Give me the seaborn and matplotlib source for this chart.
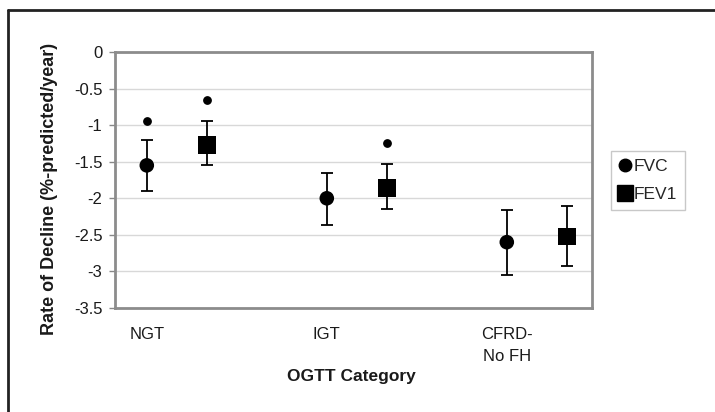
import matplotlib
matplotlib.use("Agg")
import matplotlib.pyplot as plt
from matplotlib.lines import Line2D
import seaborn as sns
import pandas as pd

# Rate of decline by OGTT category (mean with error range)
categories = ["NGT", "IGT", "CFRD-\nNo FH"]
measures = ["FVC", "FEV1"]
fvc_mean = [-1.55, -2.00, -2.60]
fvc_upper = [-1.20, -1.65, -2.16]
fvc_lower = [-1.90, -2.36, -3.05]
fev1_mean = [-1.27, -1.86, -2.52]
fev1_upper = [-0.95, -1.53, -2.11]
fev1_lower = [-1.55, -2.14, -2.92]
# significance markers: (category index, measure, y)
stars = [(0, "FVC", -0.94), (0, "FEV1", -0.66), (1, "FEV1", -1.24)]

cat_pos = [1, 4, 7]
offset = {"FVC": 0, "FEV1": 1}

rows = []
for i, c in enumerate(categories):
    rows.append(dict(cat=c, measure="FVC", x=cat_pos[i] + offset["FVC"],
                     y=fvc_mean[i], lo=fvc_lower[i], hi=fvc_upper[i]))
    rows.append(dict(cat=c, measure="FEV1", x=cat_pos[i] + offset["FEV1"],
                     y=fev1_mean[i], lo=fev1_lower[i], hi=fev1_upper[i]))
df = pd.DataFrame(rows)

sns.set_theme(style="white")
plt.rcParams["font.family"] = ["Liberation Sans", "DejaVu Sans"]

fig = plt.figure(figsize=(7.15, 4.12), dpi=100)
ax = fig.add_axes([115 / 715, 1 - 308 / 412, (592 - 115) / 715, (308 - 52) / 412])

ax.set_ylim(-3.5, 0)
ax.set_xlim(0.47, 8.42)
yt = [0, -0.5, -1, -1.5, -2, -2.5, -3, -3.5]
ax.set_yticks(yt)
ax.set_yticklabels(["0", "-0.5", "-1", "-1.5", "-2", "-2.5", "-3", "-3.5"],
                   fontsize=12, color="#1a1a1a")
ax.yaxis.grid(True, color="#d8d8d8", lw=1)
ax.set_axisbelow(True)
ax.tick_params(axis="y", direction="out", length=4, width=1, color="#888888", pad=5, left=True)
ax.set_xticks(cat_pos)
ax.set_xticklabels(categories, fontsize=12, color="#1a1a1a", va="top", linespacing=1.55)
ax.tick_params(axis="x", length=0, pad=14)
for s in ax.spines.values():
    s.set_color("#8c8c8c")
    s.set_linewidth(2)

# error bars
ax.errorbar(df["x"], df["y"],
            yerr=[df["y"] - df["lo"], df["hi"] - df["y"]],
            fmt="none", ecolor="black", elinewidth=1.3, capsize=4.3, capthick=1.3, zorder=2)

sns.scatterplot(data=df, x="x", y="y", style="measure", size="measure",
                markers={"FVC": "o", "FEV1": "s"},
                sizes={"FVC": 110, "FEV1": 160},
                color="black", edgecolor="black", linewidth=0,
                legend=False, ax=ax, zorder=3)

for ci, m, yv in stars:
    ax.scatter([cat_pos[ci] + offset[m]], [yv], s=28, marker="o", color="black", zorder=3)

ax.set_xlabel("OGTT Category", fontsize=12.5, fontweight="bold", color="#1a1a1a")
ax.xaxis.set_label_coords((351 - 115) / 477, -(377 - 308) / 256)
ax.xaxis.label.set_va("center")
ax.set_ylabel("Rate of Decline (%-predicted/year)", fontsize=13, fontweight="bold",
              color="#1a1a1a")
ax.yaxis.set_label_coords((50 - 115) / 477, 1 - (189 - 52) / 256)
ax.yaxis.label.set_va("center")

handles = [Line2D([], [], marker="o", ls="none", color="black", markersize=9),
           Line2D([], [], marker="s", ls="none", color="black", markersize=12)]
leg = fig.legend(handles, measures, loc="upper left",
                 bbox_to_anchor=(611 / 715, 1 - 151 / 412),
                 frameon=True, fancybox=False, fontsize=12.5,
                 handlelength=0.7, handletextpad=0.15, borderpad=0.45,
                 labelspacing=0.75, borderaxespad=0)
leg.get_frame().set_edgecolor("#bbbbbb")
leg.get_frame().set_linewidth(1)

# outer frame along top and left
fig.add_artist(Line2D([8 / 715, 8 / 715], [0, 1 - 10 / 412], color="#222222", lw=2,
                      transform=fig.transFigure))
fig.add_artist(Line2D([8 / 715, 1], [1 - 10 / 412, 1 - 10 / 412], color="#222222", lw=2,
                      transform=fig.transFigure))

fig.savefig("out.png", dpi=100, facecolor="white")
